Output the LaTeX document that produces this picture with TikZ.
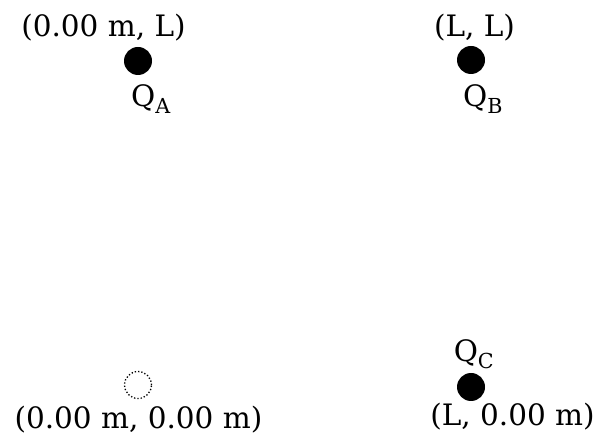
\documentclass[tikz,border=0pt]{standalone}
\usepackage{fontspec}
\setmainfont{DejaVu Serif}
\usetikzlibrary{positioning,calc}

\begin{document}
\begin{tikzpicture}[x=1pt, y=1pt,
  charge/.style={circle, fill=black, minimum size=28pt, inner sep=0pt},
  origin/.style={circle, draw, line width=1.3pt, dash pattern=on 1.3pt off 2pt,
    minimum size=27pt, inner sep=0pt},
  coordtext/.style={font=\fontsize{29.5}{33}\selectfont, inner sep=0pt, anchor=base},
  chargename/.style={coordtext},
]
\useasboundingbox (0,0) rectangle (596,438);
% charges and the origin
\node[charge] (qa) at (138,377) {};
\node[charge] (qb) at (471,378) {};
\node[charge] (qc) at (471,51) {};
\node[origin] (o) at (138,53) {};
% positions
\node[coordtext] (posa) at ($(qa)+(-34.5,24)$) {(0.00 m, L)};
\node[coordtext] (posb) at ($(qb)+(3.5,23)$) {(L, L)};
\node[coordtext] (poso) at ($(o)+(0.5,-44)$) {(0.00 m, 0.00 m)};
\node[coordtext] (posc) at ($(qc)+(41.5,-39)$) {(L, 0.00 m)};
% names
\node[chargename] (na) at ($(qa)+(13,-46)$) {Q\textsubscript{A}};
\node[chargename] (nb) at ($(qb)+(12,-47)$) {Q\textsubscript{B}};
\node[chargename] (nc) at ($(qc)+(3,25)$) {Q\textsubscript{C}};
\end{tikzpicture}
\end{document}
